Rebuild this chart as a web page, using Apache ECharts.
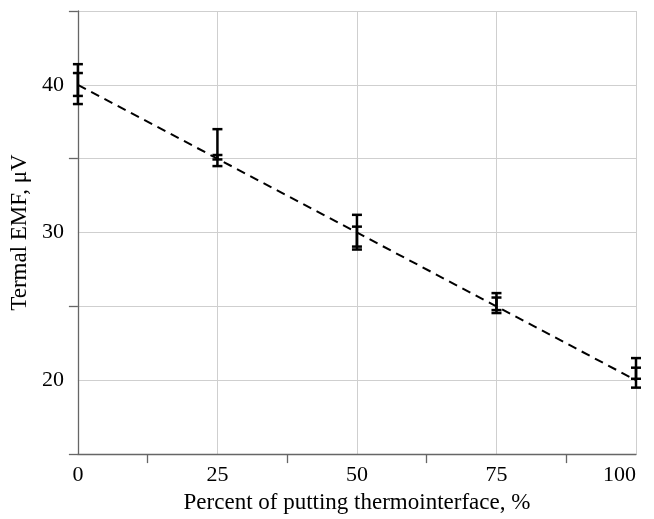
<!DOCTYPE html>
<html><head><meta charset="utf-8">
<script src="https://cdn.jsdelivr.net/npm/echarts@6/dist/echarts.min.js"></script>
<style>html,body{margin:0;padding:0;background:#fff}#c{width:654px;height:519px}</style>
</head><body><div id="c"></div>
<script>
var xValues = [0, 25, 50, 75, 100];
var outerLow = [38.7, 34.5, 28.85, 24.55, 19.5];
var outerHigh = [41.4, 37.0, 31.2, 25.9, 21.5];
var innerLow = [39.25, 34.95, 29.05, 24.75, 20.1];
var innerHigh = [40.8, 35.25, 30.4, 25.6, 20.85];
var fitLine = [[0, 40], [100, 20]];
var yLabels = [20, 30, 40];

var font = 'Liberation Serif';
function errData(lo, hi) { return xValues.map(function (x, i) { return [x, lo[i], hi[i]]; }); }
function renderErr(params, api) {
  var x = api.value(0), lo = api.value(1), hi = api.value(2);
  var pLo = api.coord([x, lo]), pHi = api.coord([x, hi]);
  var w = 5;
  var st = { stroke: '#000', lineWidth: 2.5 };
  return { type: 'group', children: [
    { type: 'line', shape: { x1: pLo[0], y1: pLo[1], x2: pHi[0], y2: pHi[1] }, style: st },
    { type: 'line', shape: { x1: pLo[0] - w, y1: pLo[1], x2: pLo[0] + w, y2: pLo[1] }, style: st },
    { type: 'line', shape: { x1: pHi[0] - w, y1: pHi[1], x2: pHi[0] + w, y2: pHi[1] }, style: st }
  ]};
}
var chart = echarts.init(document.getElementById('c'));
chart.setOption({
  animation: false,
  backgroundColor: '#fff',
  grid: { left: 73, right: 18, top: 11, bottom: 64, containLabel: false },
  xAxis: [{
    type: 'value', min: 0, max: 100, interval: 25,
    name: 'Percent of putting thermointerface, %', nameLocation: 'middle', nameGap: 32,
    nameTextStyle: { fontFamily: font, fontSize: 23, color: '#000' },
    axisLine: { show: true, lineStyle: { color: '#666', width: 1.3 } },
    axisTick: { show: false },
    axisLabel: { fontFamily: font, fontSize: 22, color: '#000', margin: 10, alignMaxLabel: 'right' },
    splitLine: { show: true, lineStyle: { color: '#cfcfcf', width: 1 } }
  }, {
    type: 'category', data: ['', '', '', ''], boundaryGap: true, position: 'bottom',
    axisLine: { show: false },
    axisTick: { show: true, alignWithLabel: true, length: 9, lineStyle: { color: '#666', width: 1.3 } },
    axisLabel: { show: false }, splitLine: { show: false }
  }],
  yAxis: [{
    type: 'value', min: 15, max: 45, interval: 5,
    name: 'Termal EMF, μV', nameLocation: 'middle', nameGap: 39,
    nameTextStyle: { fontFamily: font, fontSize: 23, color: '#000' },
    axisLine: { show: true, lineStyle: { color: '#666', width: 1.3 } },
    axisTick: { show: false },
    axisLabel: { fontFamily: font, fontSize: 22, color: '#000', margin: 14,
      formatter: function (v) { return yLabels.indexOf(v) >= 0 ? String(v) : ''; } },
    splitLine: { show: true, lineStyle: { color: '#cfcfcf', width: 1 } }
  }, {
    type: 'value', min: 15, max: 45, interval: 10, position: 'left', offset: 0,
    axisLine: { show: false },
    axisTick: { show: true, length: 9, lineStyle: { color: '#666', width: 1.3 } },
    axisLabel: { show: false }, splitLine: { show: false }
  }],
  series: [
    { type: 'line', data: fitLine, symbol: 'none', z: 3,
      lineStyle: { color: '#000', width: 2, type: [9, 6] } },
    { type: 'custom', data: errData(outerLow, outerHigh), renderItem: renderErr, z: 4 },
    { type: 'custom', data: errData(innerLow, innerHigh), renderItem: renderErr, z: 4 }
  ]
});
</script></body></html>
